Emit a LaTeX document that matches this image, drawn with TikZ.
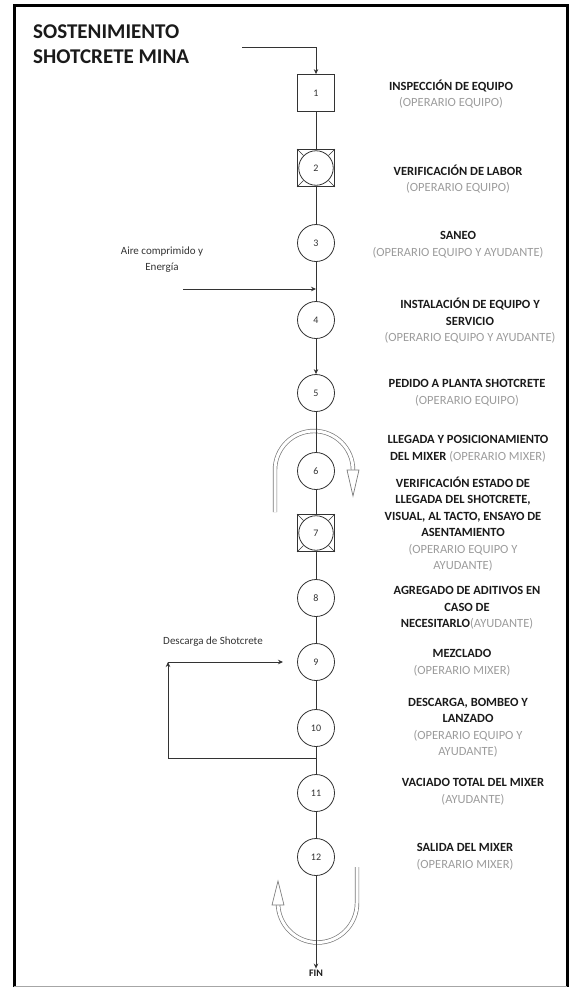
\documentclass[tikz,border=0pt]{standalone}
\usepackage{fontspec}
\setmainfont{Carlito}
\usetikzlibrary{arrows.meta}
\definecolor{txt}{HTML}{1A1A1A}
\definecolor{sub}{HTML}{9C9C9C}
\definecolor{ln}{HTML}{333333}
\definecolor{ua}{HTML}{7A7A7A}
\newcommand\gr[1]{{\mdseries\color{sub}#1}}
\begin{document}
\begin{tikzpicture}[x=1pt,y=-1pt,
  op/.style={circle, draw=ln, line width=0.8pt, minimum size=37pt, inner sep=0pt, font=\fontsize{10}{12}\selectfont, text=ln, fill=white},
  insp/.style={rectangle, draw=ln, line width=0.8pt, minimum size=37pt, inner sep=0pt, font=\fontsize{10}{12}\selectfont, text=ln, fill=white},
  inner/.style={circle, draw=ln, line width=0.8pt, minimum size=34.5pt, inner sep=0pt, font=\fontsize{10}{12}\selectfont, text=ln},
  desc/.style={align=center, font=\fontsize{12.5}{16.5}\selectfont\bfseries, text=txt, inner sep=0pt},
  note/.style={align=center, font=\fontsize{11}{16}\selectfont, text=ln, inner sep=0pt},
  flow/.style={draw=ln, line width=0.8pt},
  arr/.style={-{Stealth[length=5pt,width=4.5pt]}},
  uarrow/.style={draw=ua, line width=0.7pt, double=white, double distance=3pt},
  uhead/.style={draw=ua, fill=white, line width=0.7pt, line join=miter}
]
\useasboundingbox (0,0) rectangle (572,988);
% frame
\draw[line width=3pt] (14,987) -- (14,5) -- (567,5) -- (567,987);
\draw[line width=1pt, draw=gray!70] (14,986.5) -- (567,986.5);

% title
\node[anchor=west, align=left, font=\fontsize{21}{25.5}\selectfont\bfseries, text=txt, inner sep=0pt] (title) at (33,44) {SOSTENIMIENTO\\SHOTCRETE MINA};

% U-turn arrows (drawn first)
\draw[uarrow] (275,512) -- (275,470) arc[start angle=180,end angle=360,radius=39];
\draw[uhead] (347,470) -- (359,470) -- (353,496) -- cycle;
\draw[uarrow] (357,867) -- (357,903) arc[start angle=0,end angle=180,radius=39.5];
\draw[uhead] (272,905) -- (284,905) -- (278,881) -- cycle;

% nodes
\node[insp] (n1) at (316,93) {1};
\node[insp] (n2) at (316,168) {};
\node[inner] (c2) at (n2) {2};
\node[op] (n3) at (316,243) {3};
\node[op] (n4) at (316,320) {4};
\node[op] (n5) at (316,393) {5};
\node[op] (n6) at (316,471) {6};
\node[insp] (n7) at (316,533) {};
\node[inner] (c7) at (n7) {7};
\node[op] (n8) at (316,598) {8};
\node[op] (n9) at (316,662) {9};
\node[op] (n10) at (316,728) {10};
\node[op] (n11) at (316,793) {11};
\node[op] (n12) at (316,857) {12};
\node[font=\fontsize{10}{12}\selectfont\bfseries, text=txt, inner sep=1pt] (fin) at (316,973) {FIN};
\foreach \a in {45,135,225,315}{
  \draw[ln, line width=0.5pt] (n2.\a) -- (c2.\a);
  \draw[ln, line width=0.5pt] (n7.\a) -- (c7.\a);
}

% main flow
\coordinate (s0) at (242,47);
\draw[flow,arr] (s0) -| (n1.north);
\draw[flow] (n1) -- (n2);
\draw[flow] (n2) -- (n3);
\draw[flow] (n3) -- (n4);
\draw[flow,arr] (n4) -- (n5);
\draw[flow] (n5) -- (n6);
\draw[flow] (n6) -- (n7);
\draw[flow] (n7) -- (n8);
\draw[flow] (n8) -- (n9);
\draw[flow] (n9) -- (n10);
\draw[flow] (n10) -- (n11);
\draw[flow] (n11) -- (n12);
\draw[flow,arr] (n12) -- (fin.north);

% air input
\coordinate (a0) at (183,289);
\coordinate (a1) at (316,289);
\draw[flow,arr] (a0) -- (a1);
\node[note] (aire) at (162,260) {Aire comprimido y\\Energía};

% discharge loop
\coordinate (d1) at (316,758);
\coordinate (d2) at (168,758);
\coordinate (d3) at (168,662);
\coordinate (d4) at (283,662);
\draw[flow,arr] (d1) -- (d2) -- (d3);
\draw[flow,arr] (d3) -- (d4);
\node[note] (desc) at (213,642) {Descarga de Shotcrete};

% descriptions
\node[desc] (t1) at (451,94) {INSPECCIÓN DE EQUIPO\\\gr{(OPERARIO EQUIPO)}};
\node[desc] (t2) at (458,179) {VERIFICACIÓN DE LABOR\\\gr{(OPERARIO EQUIPO)}};
\node[desc] (t3) at (458,245) {SANEO\\\gr{(OPERARIO EQUIPO Y AYUDANTE)}};
\node[desc] (t4) at (470,321) {INSTALACIÓN DE EQUIPO Y\\SERVICIO\\\gr{(OPERARIO EQUIPO Y AYUDANTE)}};
\node[desc] (t5) at (467,393) {PEDIDO A PLANTA SHOTCRETE\\\gr{(OPERARIO EQUIPO)}};
\node[desc] (t6) at (468,449) {LLEGADA Y POSICIONAMIENTO\\DEL MIXER \gr{(OPERARIO MIXER)}};
\node[desc] (t7) at (463,524) {VERIFICACIÓN ESTADO DE\\LLEGADA DEL SHOTCRETE,\\VISUAL, AL TACTO, ENSAYO DE\\ASENTAMIENTO\\\gr{(OPERARIO EQUIPO Y}\\\gr{AYUDANTE)}};
\node[desc] (t8) at (467,608) {AGREGADO DE ADITIVOS EN\\CASO DE\\NECESITARLO\gr{(AYUDANTE)}};
\node[desc] (t9) at (462,663) {MEZCLADO\\\gr{(OPERARIO MIXER)}};
\node[desc] (t10) at (468,728) {DESCARGA, BOMBEO Y\\LANZADO\\\gr{(OPERARIO EQUIPO Y}\\\gr{AYUDANTE)}};
\node[desc] (t11) at (473,792) {VACIADO TOTAL DEL MIXER\\\gr{(AYUDANTE)}};
\node[desc] (t12) at (465,857) {SALIDA DEL MIXER\\\gr{(OPERARIO MIXER)}};
\end{tikzpicture}
\end{document}
